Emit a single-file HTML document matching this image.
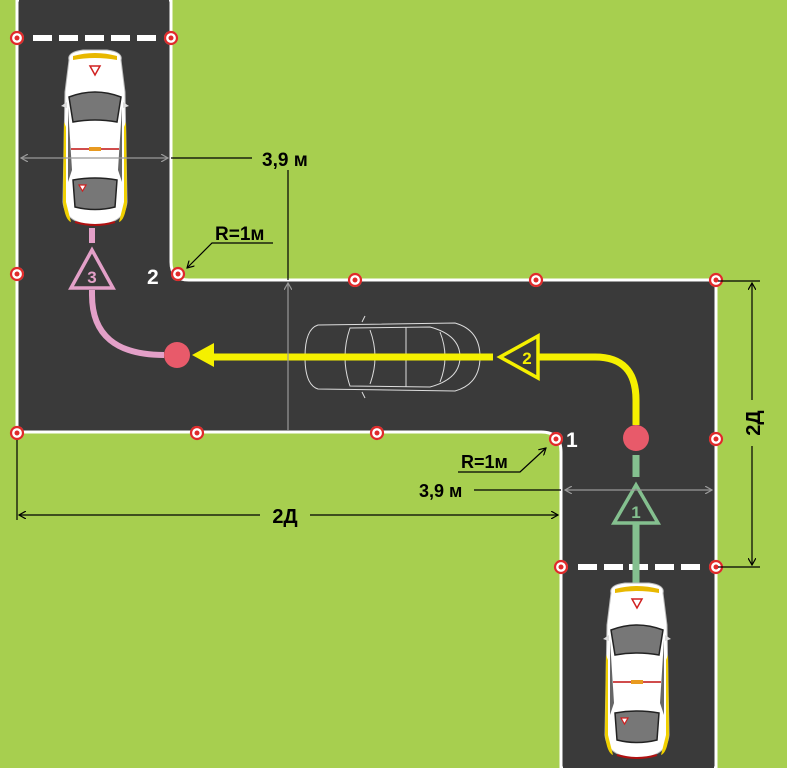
<!DOCTYPE html>
<html><head><meta charset="utf-8"><style>
html,body{margin:0;padding:0;background:#a7cf4f;}
svg{display:block;}
text{font-family:"Liberation Sans",sans-serif;font-weight:bold;}
</style></head><body>
<svg width="787" height="768" viewBox="0 0 787 768" xmlns="http://www.w3.org/2000/svg">
<defs>
<g id="cone"><circle r="7" fill="#fff"/><circle r="6" fill="none" stroke="#e02a2a" stroke-width="2.2"/><circle r="2.5" fill="#e02a2a"/></g>
<g id="car">
 <path d="M-26,8 Q-28,0 -12,-2 L12,-2 Q28,0 26,8 L30,40 L32,150 Q30,172 0,173 Q-30,172 -32,150 L-30,40 Z" fill="#fff" stroke="#bbb" stroke-width="1"/>
 <path d="M-31,70 L-32,150 Q-30,168 -24,170 L-29,150 L-29,75 Z" fill="#f0d000"/>
 <path d="M31,70 L32,150 Q30,168 24,170 L29,150 L29,75 Z" fill="#f0d000"/>
 <path d="M-20,170 Q0,176 20,170" stroke="#b01010" stroke-width="2" fill="none"/>
 <path d="M-22,4 Q0,-2 22,4 L22,8 Q0,4 -22,8 Z" fill="#e8b800"/>
 <polygon points="-5,14 5,14 0,23" fill="#fff" stroke="#d02020" stroke-width="1.5"/>
 <path d="M-26,45 Q0,35 26,45 L22,70 Q0,66 -22,70 Z" fill="#777" stroke="#222" stroke-width="1.5"/>
 <path d="M-27,55 L-23,118 L-27,130 Z" fill="#666"/>
 <path d="M27,55 L23,118 L27,130 Z" fill="#666"/>
 <line x1="-24" y1="97" x2="24" y2="97" stroke="#c01010" stroke-width="1.5"/>
 <rect x="-6" y="95" width="12" height="4" fill="#e89a20"/>
 <path d="M-22,128 Q0,124 22,128 L20,155 Q0,160 -20,155 Z" fill="#777" stroke="#222" stroke-width="1.5"/>
 <polygon points="-16,133 -9,133 -12.5,139" fill="#fff" stroke="#d02020" stroke-width="1.2"/>
 <path d="M-28,50 L-34,54 L-28,56 Z M28,50 L34,54 L28,56 Z" fill="#ddd"/>
</g>
<marker id="ga" markerWidth="8" markerHeight="8" refX="7" refY="4" orient="auto" markerUnits="userSpaceOnUse"><path d="M0,0 L7,4 L0,8" fill="none" stroke="#999" stroke-width="1.2"/></marker>
<marker id="ba" markerWidth="8" markerHeight="8" refX="7" refY="4" orient="auto" markerUnits="userSpaceOnUse"><path d="M0,0 L7,4 L0,8" fill="none" stroke="#000" stroke-width="1.2"/></marker>
</defs>
<rect width="787" height="768" fill="#a7cf4f"/>
<path d="M17,0 L171,0 L171,262 Q171,280 189,280 L716,280 L716,768 L561,768 L561,452 Q561,432 541,432 L17,432 Z" fill="#3a3a3a" stroke="#fff" stroke-width="3"/>
<rect x="19" y="0" width="150" height="4" fill="#3a3a3a"/>
<rect x="563" y="762" width="151" height="6" fill="#3a3a3a"/>
<g fill="#fff">
<rect x="33" y="35" width="19" height="6"/><rect x="59" y="35" width="19" height="6"/><rect x="85" y="35" width="19" height="6"/><rect x="111" y="35" width="19" height="6"/><rect x="137" y="35" width="19" height="6"/>
<rect x="578" y="564" width="19" height="6"/><rect x="604" y="564" width="19" height="6"/><rect x="629" y="564" width="19" height="6"/><rect x="655" y="564" width="19" height="6"/><rect x="681" y="564" width="19" height="6"/>
</g>
<g fill="none" stroke="#ddd" stroke-width="1">
<path d="M318,325 L455,323 Q480,330 480,357 Q480,384 455,391 L318,389 Q305,385 305,357 Q305,329 318,325 Z"/>
<path d="M350,328 L430,327 Q460,335 460,357 Q460,379 430,387 L350,386 Q340,357 350,328 Z"/>
<path d="M370,330 Q380,357 370,384"/><path d="M440,332 Q450,357 440,382"/>
<line x1="406" y1="327" x2="406" y2="387"/>
<path d="M362,322 L365,316 M362,392 L365,398"/>
</g>
<line x1="636" y1="585" x2="636" y2="523" stroke="#84c08f" stroke-width="7"/>
<use href="#car" x="95" y="52"/>
<use href="#car" x="637" y="585"/>
<line x1="636" y1="455" x2="636" y2="477" stroke="#84c08f" stroke-width="7"/>
<polygon points="636,485 614,523 658,523" fill="none" stroke="#84c08f" stroke-width="3.5"/>
<text x="636" y="518" font-size="17" fill="#84c08f" text-anchor="middle" font-weight="normal">1</text>
<path d="M636,425 L636,400 Q636,357 595,357 L538,357" fill="none" stroke="#f5f000" stroke-width="7"/>
<polygon points="500,357 538,336 538,378" fill="none" stroke="#f5f000" stroke-width="3.5"/>
<text x="527" y="364" font-size="17" fill="#f5f000" text-anchor="middle" font-weight="normal">2</text>
<line x1="493" y1="357" x2="212" y2="357" stroke="#f5f000" stroke-width="7"/>
<polygon points="192,355 214,343 214,367" fill="#f5f000"/>
<circle cx="636" cy="438" r="13" fill="#e85a6a"/>
<path d="M164,355 Q92,355 92,295 L92,290" fill="none" stroke="#e3a0c8" stroke-width="6"/>
<line x1="92" y1="228" x2="92" y2="243" stroke="#e3a0c8" stroke-width="6"/>
<polygon points="92,250 71,288 113,288" fill="none" stroke="#e3a0c8" stroke-width="3.5"/>
<text x="92" y="283" font-size="17" fill="#e3a0c8" text-anchor="middle" font-weight="normal">3</text>
<circle cx="177" cy="355" r="13" fill="#e85a6a"/>
<use href="#cone" x="17" y="38"/><use href="#cone" x="171" y="38"/>
<use href="#cone" x="17" y="274"/><use href="#cone" x="178" y="274"/>
<use href="#cone" x="355" y="280"/><use href="#cone" x="536" y="280"/><use href="#cone" x="716" y="280"/>
<use href="#cone" x="17" y="433"/><use href="#cone" x="197" y="433"/><use href="#cone" x="377" y="433"/>
<use href="#cone" x="556" y="439"/><use href="#cone" x="716" y="439"/>
<use href="#cone" x="561" y="567"/><use href="#cone" x="716" y="567"/>
<text x="147" y="284" font-size="21" fill="#fff">2</text>
<text x="566" y="447" font-size="21" fill="#fff">1</text>
<line x1="95" y1="158" x2="21" y2="158" stroke="#999" stroke-width="1.2" marker-end="url(#ga)"/>
<line x1="95" y1="158" x2="168" y2="158" stroke="#999" stroke-width="1.2" marker-end="url(#ga)"/>
<line x1="171" y1="158" x2="252" y2="158" stroke="#000" stroke-width="1.2"/>
<text x="262" y="166" font-size="19" fill="#000">3,9 м</text>
<line x1="288" y1="170" x2="288" y2="280" stroke="#000" stroke-width="1.2"/>
<line x1="288" y1="356" x2="288" y2="283" stroke="#999" stroke-width="1.2" marker-end="url(#ga)"/>
<line x1="288" y1="356" x2="288" y2="430" stroke="#999" stroke-width="1.2"/>
<text x="215" y="240" font-size="19" fill="#000">R=1м</text>
<polyline points="273,243 212,243 187,268" fill="none" stroke="#000" stroke-width="1.2" marker-end="url(#ba)"/>
<text x="461" y="468" font-size="18" fill="#000">R=1м</text>
<polyline points="458,472 520,472 546,448" fill="none" stroke="#000" stroke-width="1.2" marker-end="url(#ba)"/>
<text x="419" y="497" font-size="18" fill="#000">3,9 м</text>
<line x1="474" y1="490" x2="561" y2="490" stroke="#000" stroke-width="1.2"/>
<line x1="638" y1="490" x2="565" y2="490" stroke="#999" stroke-width="1.2" marker-end="url(#ga)"/>
<line x1="638" y1="490" x2="712" y2="490" stroke="#999" stroke-width="1.2" marker-end="url(#ga)"/>
<line x1="17" y1="440" x2="17" y2="520" stroke="#000" stroke-width="1.2"/>
<line x1="260" y1="515" x2="19" y2="515" stroke="#000" stroke-width="1.2" marker-end="url(#ba)"/>
<line x1="310" y1="515" x2="558" y2="515" stroke="#000" stroke-width="1.2" marker-end="url(#ba)"/>
<text x="285" y="523" font-size="20" fill="#000" text-anchor="middle">2Д</text>
<line x1="718" y1="281" x2="760" y2="281" stroke="#000" stroke-width="1.2"/>
<line x1="718" y1="567" x2="760" y2="567" stroke="#000" stroke-width="1.2"/>
<line x1="752" y1="400" x2="752" y2="283" stroke="#000" stroke-width="1.2" marker-end="url(#ba)"/>
<line x1="752" y1="446" x2="752" y2="565" stroke="#000" stroke-width="1.2" marker-end="url(#ba)"/>
<text x="0" y="0" font-size="20" fill="#000" text-anchor="middle" transform="translate(760,423) rotate(-90)">2Д</text>
</svg>
</body></html>
